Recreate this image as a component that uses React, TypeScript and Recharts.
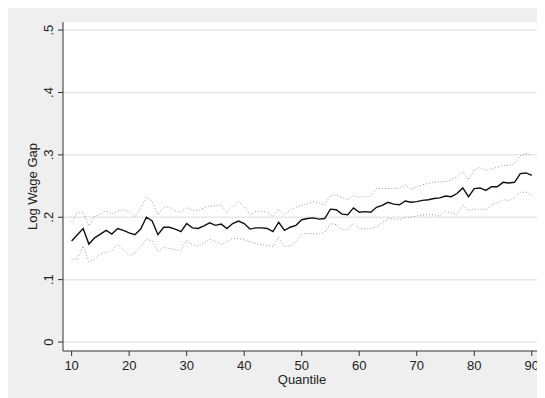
import React from "react";
import { LineChart, Line, XAxis, YAxis, CartesianGrid } from "recharts";

const quantiles: number[] = [
  10, 11, 12, 13, 14, 15, 16, 17, 18, 19, 20, 21, 22, 23, 24, 25, 26, 27, 28, 29,
  30, 31, 32, 33, 34, 35, 36, 37, 38, 39, 40, 41, 42, 43, 44, 45, 46, 47, 48, 49,
  50, 51, 52, 53, 54, 55, 56, 57, 58, 59, 60, 61, 62, 63, 64, 65, 66, 67, 68, 69,
  70, 71, 72, 73, 74, 75, 76, 77, 78, 79, 80, 81, 82, 83, 84, 85, 86, 87, 88, 89, 90,
];

const gap: number[] = [
  0.162, 0.172, 0.182, 0.157, 0.167, 0.173, 0.179, 0.173, 0.182, 0.179,
  0.175, 0.172, 0.181, 0.2, 0.194, 0.172, 0.184, 0.184, 0.181, 0.177,
  0.19, 0.183, 0.182, 0.186, 0.191, 0.187, 0.189, 0.182, 0.19, 0.194,
  0.19, 0.181, 0.183, 0.183, 0.182, 0.177, 0.192, 0.179, 0.184, 0.187,
  0.196, 0.198, 0.199, 0.197, 0.198, 0.213, 0.212, 0.205, 0.204, 0.215,
  0.208, 0.209, 0.208, 0.216, 0.219, 0.224, 0.221, 0.22, 0.226, 0.224,
  0.225, 0.227, 0.228, 0.23, 0.231, 0.234, 0.233, 0.238, 0.247, 0.233,
  0.246, 0.247, 0.243, 0.249, 0.249, 0.256, 0.255, 0.256, 0.27, 0.271, 0.267,
];

const upper: number[] = [
  0.193, 0.208, 0.208, 0.186, 0.202, 0.205, 0.21, 0.205, 0.21, 0.212,
  0.209, 0.2, 0.215, 0.232, 0.225, 0.204, 0.217, 0.216, 0.21, 0.208,
  0.216, 0.211, 0.211, 0.215, 0.218, 0.219, 0.22, 0.207, 0.217, 0.225,
  0.217, 0.204, 0.209, 0.21, 0.208, 0.201, 0.213, 0.204, 0.212, 0.216,
  0.219, 0.222, 0.225, 0.223, 0.22, 0.235, 0.236, 0.232, 0.228, 0.235,
  0.232, 0.233, 0.234, 0.246, 0.246, 0.246, 0.246, 0.247, 0.252, 0.244,
  0.249, 0.252, 0.254, 0.256, 0.257, 0.257, 0.26, 0.265, 0.273, 0.26,
  0.276, 0.28, 0.275, 0.278, 0.28, 0.283, 0.283, 0.286, 0.299, 0.302, 0.3,
];

const lower: number[] = [
  0.133, 0.133, 0.154, 0.129, 0.133, 0.141, 0.144, 0.147, 0.156, 0.148,
  0.139, 0.142, 0.153, 0.165, 0.162, 0.145, 0.152, 0.15, 0.148, 0.147,
  0.163, 0.156, 0.154, 0.159, 0.165, 0.161, 0.156, 0.161, 0.166, 0.166,
  0.164, 0.161, 0.158, 0.156, 0.155, 0.153, 0.168, 0.153, 0.154, 0.161,
  0.173, 0.174, 0.174, 0.173, 0.176, 0.19, 0.188, 0.18, 0.18, 0.191,
  0.182, 0.181, 0.182, 0.185, 0.191, 0.198, 0.197, 0.196, 0.2, 0.2,
  0.202, 0.204, 0.204, 0.204, 0.202, 0.21, 0.207, 0.204, 0.22, 0.21,
  0.213, 0.213, 0.212, 0.22, 0.223, 0.228, 0.227, 0.231, 0.24, 0.24, 0.235,
];

const xTicks: number[] = [10, 20, 30, 40, 50, 60, 70, 80, 90];
const yTicks: number[] = [0, 0.1, 0.2, 0.3, 0.4, 0.5];

const data = quantiles.map((q, i) => ({
  q,
  gap: gap[i],
  upper: upper[i],
  lower: lower[i],
}));

const FONT = "'Liberation Sans', Arial, Helvetica, sans-serif";

const fmtY = (v: number) => (v === 0 ? "0" : String(v).replace(/^0/, ""));

const XTick = (props: any) => {
  const { x, y, payload } = props;
  return (
    <text x={x} y={y} dy={14} textAnchor="middle" fontSize={13} fill="#222" fontFamily={FONT}>
      {payload.value}
    </text>
  );
};

const YTick = (props: any) => {
  const { x, y, payload } = props;
  const bx = x - 5;
  return (
    <text
      x={bx}
      y={y}
      textAnchor="middle"
      fontSize={13}
      fill="#222"
      fontFamily={FONT}
      transform={`rotate(-90, ${bx}, ${y})`}
    >
      {fmtY(payload.value)}
    </text>
  );
};

export default function App() {
  return (
    <div style={{ width: 537, height: 390, background: "#efefef" }}>
      <LineChart
        width={537}
        height={390}
        data={data}
        margin={{ top: 14, right: 4, bottom: 0, left: 0 }}
      >
        <CartesianGrid
          vertical={false}
          horizontal={true}
          fill="#ffffff"
          stroke="#e8e8e8"
          strokeWidth={1.5}
          horizontalValues={yTicks}
        />
        <XAxis
          dataKey="q"
          type="number"
          domain={[8.5, 91.6]}
          ticks={xTicks}
          allowDataOverflow
          height={47}
          tickSize={5}
          tickMargin={0}
          tick={<XTick />}
          stroke="#333"
          label={{
            value: "Quantile",
            position: "insideBottom",
            offset: 14,
            fontSize: 13,
            fill: "#222",
            fontFamily: FONT,
          }}
        />
        <YAxis
          type="number"
          domain={[-0.0144, 0.513]}
          ticks={yTicks}
          allowDataOverflow
          width={55}
          tickSize={5}
          tickMargin={0}
          tick={<YTick />}
          stroke="#333"
          label={(p: any) => {
            const vb = p.viewBox || {};
            const cx = 29;
            const cy = (vb.y ?? 14) + (vb.height ?? 329) / 2;
            return (
              <text
                x={cx}
                y={cy}
                textAnchor="middle"
                fontSize={13}
                fill="#222"
                fontFamily={FONT}
                transform={`rotate(-90, ${cx}, ${cy})`}
              >
                Log Wage Gap
              </text>
            );
          }}
        />
        <Line
          dataKey="upper"
          stroke="#9a9a9a"
          strokeWidth={1}
          strokeDasharray="1 2"
          dot={false}
          isAnimationActive={false}
        />
        <Line
          dataKey="lower"
          stroke="#9a9a9a"
          strokeWidth={1}
          strokeDasharray="1 2"
          dot={false}
          isAnimationActive={false}
        />
        <Line
          dataKey="gap"
          stroke="#111"
          strokeWidth={1.4}
          dot={false}
          isAnimationActive={false}
        />
      </LineChart>
    </div>
  );
}
